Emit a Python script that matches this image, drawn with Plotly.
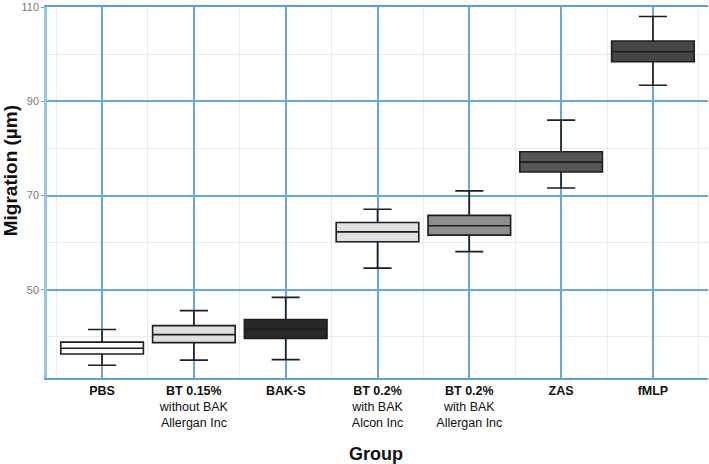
import plotly.graph_objects as go

groups = ["<b>PBS</b>", "<b>BT 0.15%</b><br>without BAK<br>Allergan Inc", "<b>BAK-S</b>",
          "<b>BT 0.2%</b><br>with BAK<br>Alcon Inc", "<b>BT 0.2%</b><br>with BAK<br>Allergan Inc",
          "<b>ZAS</b>", "<b>fMLP</b>"]
lower = [34.0, 35.1, 35.2, 54.6, 58.1, 71.6, 93.4]
q1 = [36.4, 38.8, 39.7, 60.2, 61.6, 75.0, 98.4]
median = [37.6, 40.5, 41.7, 62.3, 63.6, 77.1, 100.5]
q3 = [38.9, 42.4, 43.7, 64.3, 65.8, 79.3, 102.8]
upper = [41.6, 45.6, 48.4, 67.1, 71.0, 86.0, 108.0]
fills = ["#ffffff", "#e0e0e0", "#282828", "#e0e0e0", "#8e8e8e", "#565656", "#464646"]
y_ticks = [50, 70, 90, 110]
y_minor = [40, 60, 80, 100]

fig = go.Figure()
for i, g in enumerate(groups):
    fig.add_trace(go.Box(
        x=[i], q1=[q1[i]], median=[median[i]], q3=[q3[i]],
        lowerfence=[lower[i]], upperfence=[upper[i]],
        fillcolor=fills[i], line=dict(color="#1e1e1e", width=1.6),
        width=0.9, whiskerwidth=0.34, boxpoints=False, hoverinfo="skip",
        showlegend=False,
    ))

blue = "rgb(104,168,212)"
lightblue = "rgb(150,200,228)"
fig.update_layout(
    width=709, height=464,
    margin=dict(l=47, r=1, t=7, b=86),
    paper_bgcolor="white", plot_bgcolor="white",
    font=dict(family="Liberation Sans, Arial, sans-serif", color="#111"),
    xaxis=dict(
        range=[-0.6, 6.6], tickmode="array", tickvals=list(range(len(groups))), ticktext=groups,
        showgrid=True, gridcolor=blue, gridwidth=1.5, zeroline=False,
        showline=True, linecolor="rgb(90,160,208)", linewidth=1.5, mirror=True,
        ticks="", tickfont=dict(size=12.5, color="#111"), automargin=False,
        minor=dict(tick0=0.5, dtick=1, showgrid=True, gridcolor="#ebebeb", gridwidth=1),
    ),
    yaxis=dict(
        range=[31.3, 110], tickmode="array", tickvals=y_ticks,
        showgrid=True, gridcolor=blue, gridwidth=1.5, zeroline=False,
        showline=True, linecolor=lightblue, linewidth=2.5, mirror=False,
        ticks="outside", ticklen=3, tickcolor="#999", tickfont=dict(size=11, color="#777"),
        automargin=False,
        minor=dict(tickvals=y_minor, showgrid=True, gridcolor="#ebebeb", gridwidth=1),
    ),
    annotations=[
        dict(text="<b>Group</b>", xref="paper", yref="paper", x=0.498, y=-0.205,
             xanchor="center", yanchor="middle", showarrow=False,
             font=dict(size=18, color="#111")),
        dict(text="<b>Migration (µm)</b>", xref="paper", yref="paper", x=-0.055, y=0.559,
             xanchor="center", yanchor="middle", showarrow=False, textangle=-90,
             font=dict(size=19, color="#111")),
    ],
)
fig.write_html("out.html", config={"displayModeBar": False},
               post_script="document.body.style.margin='0';document.body.style.padding='0';")
